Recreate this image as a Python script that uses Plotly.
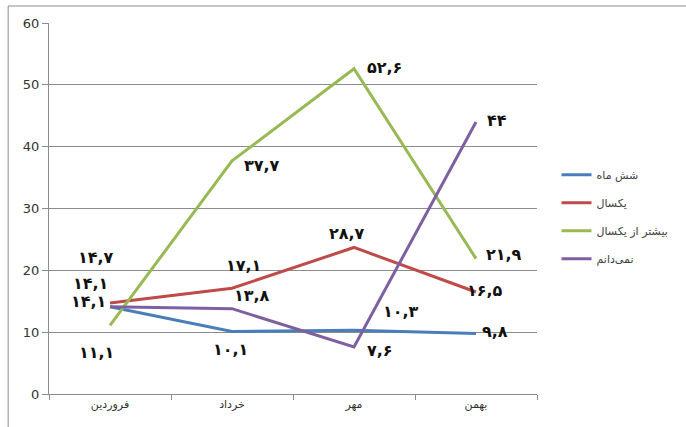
import plotly.graph_objects as go

categories = ["فروردین", "خرداد", "مهر", "بهمن"]
series_names = ["شش ماه", "یکسال", "بیشتر از یکسال", "نمی‌دانم"]
blue_vals = [14.1, 10.1, 10.3, 9.8]
red_vals = [14.7, 17.1, 23.7, 16.5]
green_vals = [11.1, 37.7, 52.6, 21.9]
purple_vals = [14.1, 13.8, 7.6, 44.0]
blue_labels = ["۱۴,۱", "۱۰,۱", "۱۰,۳", "۹,۸"]
red_labels = ["۱۴,۷", "۱۷,۱", "۲۸,۷", "۱۶,۵"]
green_labels = ["۱۱,۱", "۳۷,۷", "۵۲,۶", "۲۱,۹"]
purple_labels = ["۱۴,۱", "۱۳,۸", "۷,۶", "۴۴"]
y_ticks = [0, 10, 20, 30, 40, 50, 60]

colors = ["#4A7EBB", "#BE4B48", "#98B954", "#7D60A0"]
vals = [blue_vals, red_vals, green_vals, purple_vals]
labels = [blue_labels, red_labels, green_labels, purple_labels]
# label offsets in pixels (dx right, dy down)
offsets = [
    [(-22, -5), (-2, 18), (47, -19), (19, -2)],
    [(-14, -46), (11, -23), (-7, -14), (9, -1)],
    [(-14, 27), (30, 5), (30, -1), (28, -4)],
    [(-20, -23), (20, -13), (26, 3), (21, -1)],
]

fig = go.Figure()
for name, v, c in zip(series_names, vals, colors):
    fig.add_trace(go.Scatter(
        x=categories, y=v, mode="lines", name=name,
        line=dict(color=c, width=3), legendgroup=name,
    ))

annotations = []
for v, lab, off in zip(vals, labels, offsets):
    for cat, val, t, (dx, dy) in zip(categories, v, lab, off):
        annotations.append(dict(
            x=cat, y=val, xref="x", yref="y", text=t, showarrow=False,
            xshift=dx, yshift=-dy,
            font=dict(family="DejaVu Sans", size=16, color="#111111", weight="bold"),
        ))

fig.update_layout(
    width=686, height=427,
    margin=dict(l=49, r=147, t=23, b=33),
    plot_bgcolor="white", paper_bgcolor="white",
    showlegend=True,
    legend=dict(
        x=1.04, y=0.63, xanchor="left", yanchor="top",
        font=dict(family="DejaVu Sans", size=11, color="#404040"),
        tracegroupgap=9, itemwidth=30, bgcolor="rgba(0,0,0,0)",
    ),
    annotations=annotations,
    shapes=[dict(type="rect", xref="paper", yref="paper",
                 x0=(8 - 49) / 490, x1=1.4, y0=-0.2, y1=1 + (23 - 6) / 371,
                 line=dict(color="#8C8C8C", width=1), layer="below")],
    xaxis=dict(
        type="category", showgrid=False, showline=True, linecolor="#8C8C8C",
        ticks="outside", tickson="boundaries", ticklen=5, tickcolor="#8C8C8C",
        tickfont=dict(family="DejaVu Sans", size=11, color="#333333"),
        range=[-0.5, 3.5],
    ),
    yaxis=dict(
        range=[0, 60], tickvals=y_ticks, showgrid=True, gridcolor="#8C8C8C",
        gridwidth=1, showline=True, linecolor="#8C8C8C", zeroline=False,
        ticks="outside", ticklen=6, tickcolor="#8C8C8C",
        tickfont=dict(family="DejaVu Sans", size=13, color="#333333"),
    ),
)

fig.write_html("out.html")
